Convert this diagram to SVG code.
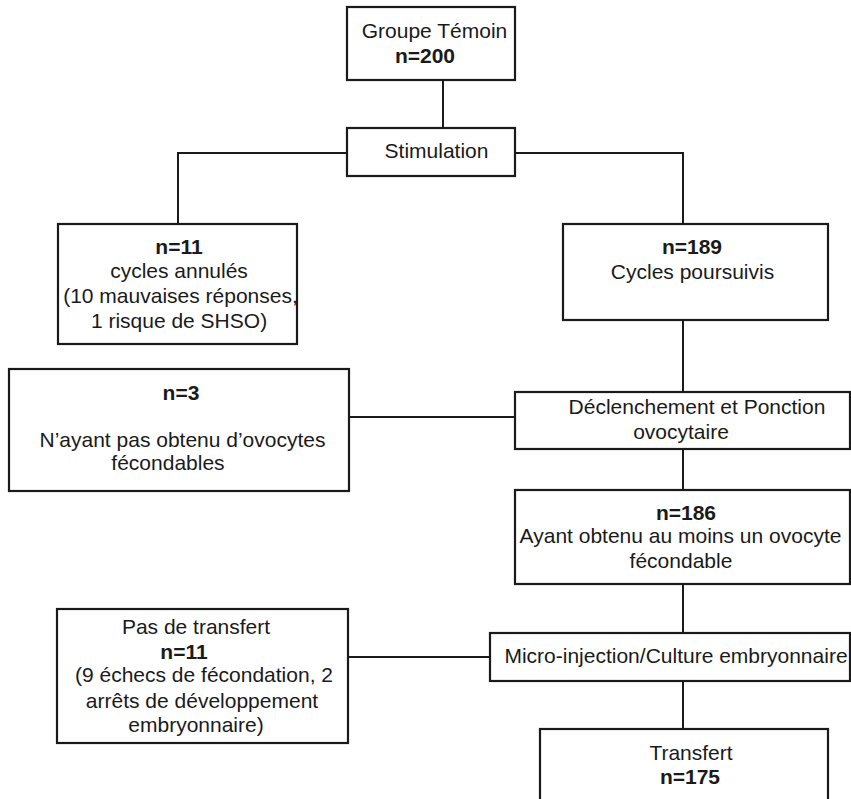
<svg xmlns="http://www.w3.org/2000/svg" width="851" height="799" viewBox="0 0 851 799">
<style>
.box{fill:#fff;stroke:#1a1a1a;stroke-width:2.2}
.ln{fill:none;stroke:#1a1a1a;stroke-width:2}
text{font-family:"Liberation Sans",Arial,sans-serif;font-size:21px;fill:#1a1a1a;text-anchor:middle}
.b{font-weight:bold}
</style>
<rect width="851" height="799" fill="#fff"/>
<g id="connectors">
<line class="ln" x1="443" y1="80" x2="443" y2="128"/>
<polyline class="ln" points="347,153 178,153 178,224"/>
<polyline class="ln" points="515,153 683,153 683,224"/>
<line class="ln" x1="683" y1="320" x2="683" y2="392"/>
<line class="ln" x1="349" y1="417" x2="515" y2="417"/>
<line class="ln" x1="683" y1="449" x2="683" y2="490"/>
<line class="ln" x1="683" y1="584" x2="683" y2="633"/>
<line class="ln" x1="348" y1="657" x2="490" y2="657"/>
<line class="ln" x1="683" y1="681" x2="683" y2="729"/>
</g>
<g id="groupe">
<rect class="box" x="347" y="7" width="168" height="73"/>
<text x="434.5" y="38">Groupe Témoin</text>
<text class="b" x="425" y="63">n=200</text>
</g>
<g id="stimulation">
<rect class="box" x="347" y="128" width="168" height="48"/>
<text x="436.5" y="158">Stimulation</text>
</g>
<g id="annules">
<rect class="box" x="58" y="224" width="239" height="120"/>
<text class="b" x="179" y="254">n=11</text>
<text x="179" y="278">cycles annulés</text>
<text x="180.5" y="303">(10 mauvaises réponses,</text>
<text x="179" y="328">1 risque de SHSO)</text>
</g>
<g id="poursuivis">
<rect class="box" x="563" y="224" width="265" height="96"/>
<text class="b" x="692" y="254">n=189</text>
<text x="692.5" y="279">Cycles poursuivis</text>
</g>
<g id="n3">
<rect class="box" x="9" y="369" width="340" height="122"/>
<text class="b" x="181" y="400">n=3</text>
<text x="182.5" y="447">N’ayant pas obtenu d’ovocytes</text>
<text x="168" y="470">fécondables</text>
</g>
<g id="declenchement">
<rect class="box" x="515" y="392" width="335" height="57"/>
<text x="697" y="414">Déclenchement et Ponction</text>
<text x="681" y="439">ovocytaire</text>
</g>
<g id="n186">
<rect class="box" x="515" y="490" width="335" height="94"/>
<text class="b" x="686" y="520">n=186</text>
<text x="680.5" y="543">Ayant obtenu au moins un ovocyte</text>
<text x="681" y="568">fécondable</text>
</g>
<g id="pasdetransfert">
<rect class="box" x="57" y="609" width="291" height="134"/>
<text x="196" y="634">Pas de transfert</text>
<text class="b" x="184" y="659">n=11</text>
<text x="204" y="682">(9 échecs de fécondation, 2</text>
<text x="202" y="708">arrêts de développement</text>
<text x="196" y="732">embryonnaire)</text>
</g>
<g id="micro">
<rect class="box" x="490" y="633" width="360" height="48"/>
<text x="676" y="663">Micro-injection/Culture embryonnaire</text>
</g>
<g id="transfert">
<rect class="box" x="540" y="729" width="288" height="90"/>
<text x="691" y="760">Transfert</text>
<text class="b" x="690" y="784">n=175</text>
</g>
</svg>
